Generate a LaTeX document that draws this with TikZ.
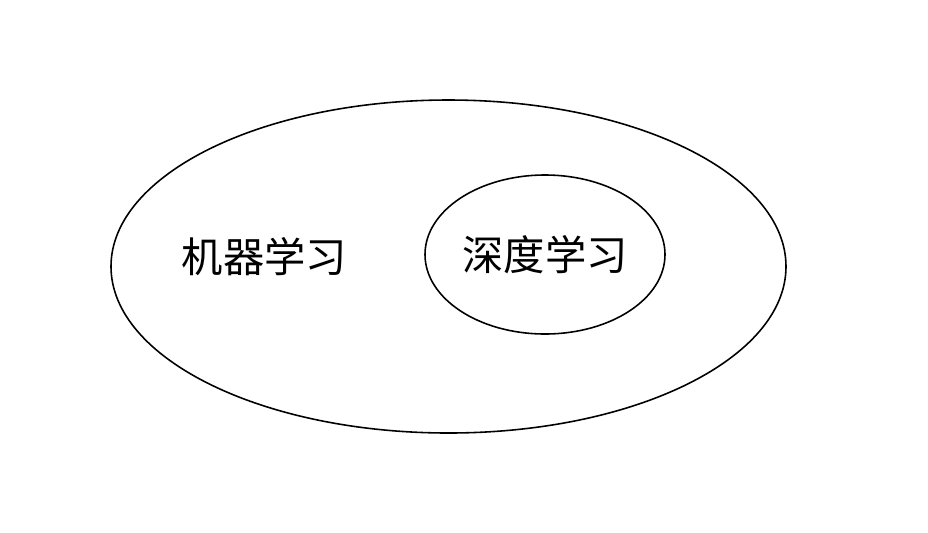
\documentclass[tikz,border=0pt]{standalone}
\usepackage{fontspec}
\newfontfamily\cjk{Noto Sans CJK SC}
\usetikzlibrary{shapes.geometric}

\tikzset{
	set/.style={draw,ellipse,line width=0.9pt,inner sep=0pt},
	setlabel/.style={font=\cjk\fontsize{23.5}{26}\selectfont}
}

\begin{document}
\begin{tikzpicture}
				\useasboundingbox (0,0) rectangle (18.56,-10.64);
				\node[set,minimum width=13.5cm,minimum height=6.66cm] (ml) at (8.97,-5.33) {};
				\node[set,minimum width=4.8cm,minimum height=3.18cm] (dl) at (10.9,-5.09) {};
				\node[setlabel] (mltext) at (5.29,-5.14) {机器学习};
				\node[setlabel] (dltext) at (dl.center) {深度学习};
			\end{tikzpicture}
\end{document}
